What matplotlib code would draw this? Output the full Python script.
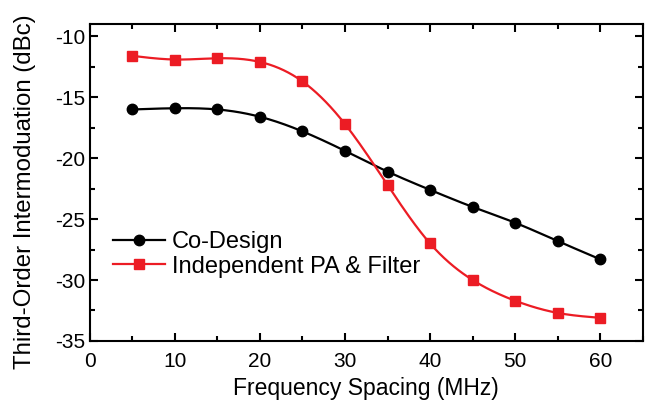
import numpy as np
import matplotlib
matplotlib.use("Agg")
import matplotlib.pyplot as plt
from matplotlib.ticker import MultipleLocator

plt.rcParams['font.family'] = ['Liberation Sans', 'DejaVu Sans']
plt.rcParams['axes.unicode_minus'] = False

# data
freq = [5, 10, 15, 20, 25, 30, 35, 40, 45, 50, 55, 60]
co_design = [-16.0, -15.9, -16.0, -16.6, -17.8, -19.4, -21.1, -22.6, -24.0, -25.3, -26.8, -28.3]
independent = [-11.6, -11.9, -11.8, -12.1, -13.7, -17.2, -22.2, -27.0, -30.0, -31.7, -32.7, -33.1]


def spline_curve(x, y, n=400):
    # natural cubic spline through the points, used only to draw the connecting line
    x = np.asarray(x, float)
    y = np.asarray(y, float)
    k = len(x)
    h = np.diff(x)
    A = np.zeros((k, k))
    b = np.zeros(k)
    A[0, 0] = 1
    A[-1, -1] = 1
    for i in range(1, k - 1):
        A[i, i - 1] = h[i - 1]
        A[i, i] = 2 * (h[i - 1] + h[i])
        A[i, i + 1] = h[i]
        b[i] = 6 * ((y[i + 1] - y[i]) / h[i] - (y[i] - y[i - 1]) / h[i - 1])
    M = np.linalg.solve(A, b)
    xs = np.linspace(x[0], x[-1], n)
    idx = np.clip(np.searchsorted(x, xs) - 1, 0, k - 2)
    x0, x1 = x[idx], x[idx + 1]
    hh = x1 - x0
    t0 = x1 - xs
    t1 = xs - x0
    ys = (M[idx] * t0 ** 3 + M[idx + 1] * t1 ** 3) / (6 * hh) \
        + (y[idx] / hh - M[idx] * hh / 6) * t0 \
        + (y[idx + 1] / hh - M[idx + 1] * hh / 6) * t1
    return xs, ys


red = '#ec1c24'

fig = plt.figure(figsize=(6.46, 4.03), dpi=100)
ax = fig.add_axes([0.139, 0.154, 0.856, 0.786])

xs, ys = spline_curve(freq, co_design)
ax.plot(xs, ys, color='black', lw=1.6)
ax.plot(freq, co_design, 'o', color='black', ms=7.5, ls='none')
ax.plot([], [], '-o', color='black', lw=1.6, ms=7.5, label='Co-Design')

xs, ys = spline_curve(freq, independent)
ax.plot(xs, ys, color=red, lw=1.6)
ax.plot(freq, independent, 's', color=red, ms=7, ls='none')
ax.plot([], [], '-s', color=red, lw=1.6, ms=7, label='Independent PA & Filter')

ax.set_xlim(0, 65)
ax.set_ylim(-35, -9)
ax.xaxis.set_major_locator(MultipleLocator(10))
ax.xaxis.set_minor_locator(MultipleLocator(5))
ax.yaxis.set_major_locator(MultipleLocator(5))
ax.yaxis.set_minor_locator(MultipleLocator(2.5))
ax.tick_params(which='both', direction='in', top=True, right=True, width=1.5, labelsize=15)
ax.tick_params(which='major', length=6)
ax.tick_params(which='minor', length=3.5)
ax.tick_params(axis='x', pad=8)
for s in ax.spines.values():
    s.set_linewidth(1.5)

ax.set_xlabel('Frequency Spacing (MHz)', fontsize=16.5, labelpad=4)
ax.set_ylabel('Third-Order Intermoduation (dBc)', fontsize=17.3)
ax.yaxis.set_label_coords(-0.098, 0.47)

ax.legend(loc='lower left', bbox_to_anchor=(0.025, 0.17), frameon=False, fontsize=17,
          handlelength=2.2, handletextpad=0.3, labelspacing=0.1, borderaxespad=0)

fig.savefig('out.png', dpi=100)
